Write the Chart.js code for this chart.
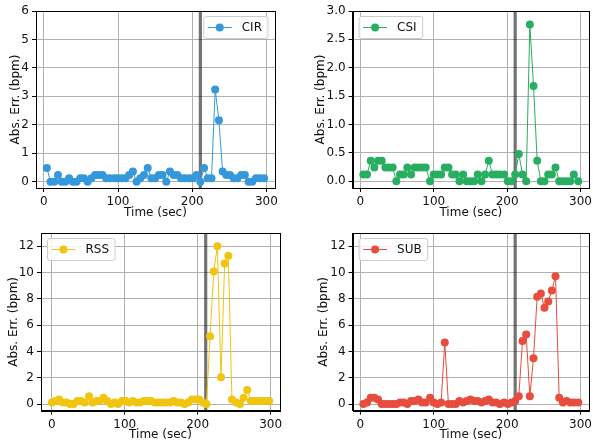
<!DOCTYPE html>
<html>
<head>
<meta charset="utf-8">
<script src="https://cdn.jsdelivr.net/npm/chart.js@4.4.1/dist/chart.umd.min.js"></script>
<style>
  html, body { margin: 0; padding: 0; background: #fff; }
  #wrap { position: relative; width: 593px; height: 442px; overflow: hidden; }
  #wrap canvas { position: absolute; }
</style>
</head>
<body>
<div id="wrap">
  <canvas id="c-cir" width="296" height="222" style="left:0;top:0"></canvas>
  <canvas id="c-csi" width="297" height="222" style="left:296px;top:0"></canvas>
  <canvas id="c-rss" width="296" height="222" style="left:0;top:222px"></canvas>
  <canvas id="c-sub" width="297" height="222" style="left:296px;top:222px"></canvas>
</div>
<script>
// --- DADOS ---
const TIME = [4, 9, 14, 19, 24, 29, 34, 39, 44, 49, 54, 59, 64, 69, 74, 79, 84, 89,
  95, 100, 105, 110, 115, 120, 125, 130, 135, 140, 145, 150, 155, 160, 165, 170, 175, 180, 185, 190,
  196, 201, 206, 211, 216, 221, 226, 231, 236, 241, 246, 251, 256, 261, 266, 271, 276, 281, 286, 291,
  297];
const TIME_RSS = [0, 5, 10, 15, 20, 25, 30, 35, 40, 45,
  51, 56, 61, 66, 71, 76, 81, 86, 91, 96, 101, 106, 111, 116, 121, 126, 131, 136, 141, 146,
  152, 157, 162, 167, 172, 177, 182, 187, 192, 197, 202, 207, 212, 217, 222, 227, 232, 237, 242, 247,
  253, 258, 263, 268, 273, 278, 283, 288, 293, 298];

const CIR = [0.48, 0, 0, 0.24, 0, 0, 0.12, 0, 0, 0.12,
  0.12, 0, 0.12, 0.24, 0.24, 0.24, 0.12, 0.12, 0.12, 0.12,
  0.12, 0.12, 0.24, 0.36, 0, 0.12, 0.24, 0.48, 0.12, 0.12,
  0.24, 0.24, 0, 0.36, 0.24, 0.24, 0.12, 0.12, 0.12, 0.12,
  0.24, 0, 0.48, 0.12, 0.12, 3.24, 2.16, 0.36, 0.24, 0.24,
  0.12, 0.12, 0.24, 0.24, 0, 0, 0.12, 0.12, 0.12];
const CSI = [0.12, 0.12, 0.36, 0.24, 0.36, 0.36, 0.24, 0.24, 0.24, 0,
  0.12, 0.12, 0.24, 0.12, 0.24, 0.24, 0.24, 0.24, 0, 0.12,
  0.12, 0.12, 0.24, 0.24, 0.12, 0.12, 0, 0.12, 0, 0,
  0, 0.12, 0, 0.12, 0.36, 0.12, 0.12, 0.12, 0.12, 0,
  0, 0.12, 0.48, 0.12, 0, 2.76, 1.68, 0.36, 0, 0,
  0.12, 0.12, 0.24, 0, 0, 0, 0, 0.12, 0];
const RSS = [0.12, 0.24, 0.36, 0.12, 0.12, 0, 0, 0.24, 0.24, 0.12,
  0.6, 0.12, 0.24, 0.24, 0.48, 0.24, 0, 0.12, 0, 0.24,
  0.24, 0.12, 0.24, 0.12, 0.12, 0.24, 0.24, 0.24, 0.12, 0.12,
  0.12, 0.12, 0.12, 0.24, 0.12, 0.12, 0, 0.12, 0.36, 0.36,
  0.36, 0.12, 0, 5.16, 10.08, 12.0, 2.04, 10.68, 11.28, 0.36,
  0.12, 0, 0.48, 1.08, 0.24, 0.24, 0.24, 0.24, 0.24, 0.24];
const SUB = [0, 0.12, 0.48, 0.48, 0.36, 0, 0, 0, 0, 0,
  0.12, 0.12, 0, 0.24, 0.24, 0.36, 0.12, 0.12, 0.48, 0.12,
  0, 0.12, 4.68, 0, 0, 0, 0.24, 0.12, 0.24, 0.36,
  0.24, 0.24, 0.12, 0.24, 0.36, 0.12, 0.12, 0, 0.12, 0,
  0.12, 0.24, 0.6, 4.8, 5.28, 0.6, 3.48, 8.16, 8.4, 7.32,
  7.8, 8.64, 9.72, 0.48, 0.12, 0.24, 0.12, 0.12, 0.12];

const X_TICKS = [0, 100, 200, 300];
const CIR_TICKS = [0, 1, 2, 3, 4, 5, 6];
const CSI_TICKS = [0, 0.5, 1, 1.5, 2, 2.5, 3];
const RSS_TICKS = [0, 2, 4, 6, 8, 10, 12];
const EVENT_TIME = 211;

const FONT = { family: '"DejaVu Sans", sans-serif', size: 12 };

// --- PAINEIS ---
const paineis = [
  { id: 'c-cir', label: 'CIR', color: '#3498db', time: TIME, values: CIR, yTicks: CIR_TICKS, yMin: -0.22, yMax: 6,
    xMin: -10.65, xMax: 311.65, legend: 'right', dec: 0, area: { left: 36, top: 11, right: 275, bottom: 188 }, yPad: 8.8 },
  { id: 'c-csi', label: 'CSI', color: '#27ae60', time: TIME, values: CSI, yTicks: CSI_TICKS, yMin: -0.12, yMax: 3,
    xMin: -10.65, xMax: 311.65, legend: 'left', dec: 1, area: { left: 56.6, top: 11, right: 295.2, bottom: 188 }, yPad: 17.8 },
  { id: 'c-rss', label: 'RSS', color: '#f1c40f', time: TIME_RSS, values: RSS, yTicks: RSS_TICKS, yMin: -0.5, yMax: 13,
    xMin: -14.9, xMax: 312.9, legend: 'left', dec: 0, area: { left: 41, top: 11, right: 280, bottom: 188.7 }, yPad: 6.8 },
  { id: 'c-sub', label: 'SUB', color: '#e74c3c', time: TIME, values: SUB, yTicks: RSS_TICKS, yMin: -0.5, yMax: 13,
    xMin: -10.65, xMax: 311.65, legend: 'left', dec: 0, area: { left: 56.6, top: 11, right: 295.2, bottom: 188.7 }, yPad: 20.8 }
];

const moldura = {
  id: 'moldura',
  beforeDatasetsDraw(chart) {
    const { ctx, chartArea: a, scales: { x } } = chart;
    const px = x.getPixelForValue(EVENT_TIME);
    ctx.save();
    ctx.strokeStyle = 'rgba(0,0,0,0.55)';
    ctx.lineWidth = 3.2;
    ctx.beginPath();
    ctx.moveTo(px, a.top);
    ctx.lineTo(px, a.bottom);
    ctx.stroke();
    ctx.restore();
  },
  afterDatasetsDraw(chart, args, opts) {
    const { ctx, chartArea: a } = chart;
    const ds = chart.data.datasets[0];
    ctx.save();
    ctx.strokeStyle = '#000';
    ctx.lineWidth = 1;
    ctx.strokeRect(Math.round(a.left) + 0.5, Math.round(a.top) + 0.5,
      Math.round(a.right) - Math.round(a.left), Math.round(a.bottom) - Math.round(a.top));

    // legenda
    ctx.font = `${FONT.size}px ${FONT.family}`;
    const tw = ctx.measureText(ds.label).width;
    const w = 4 + 24 + 10 + tw + 6, h = 22;
    const bx = opts.side === 'right' ? a.right - 7 - w : a.left + 6.5;
    const by = a.top + 5.5;
    ctx.beginPath();
    ctx.roundRect(bx, by, w, h, 2.5);
    ctx.fillStyle = 'rgba(255,255,255,0.85)';
    ctx.fill();
    ctx.strokeStyle = '#cccccc';
    ctx.stroke();
    const cy = by + h / 2;
    ctx.strokeStyle = ds.borderColor;
    ctx.beginPath();
    ctx.moveTo(bx + 4, cy);
    ctx.lineTo(bx + 28, cy);
    ctx.stroke();
    ctx.fillStyle = ds.borderColor;
    ctx.beginPath();
    ctx.arc(bx + 16, cy, 4, 0, Math.PI * 2);
    ctx.fill();
    ctx.fillStyle = '#111';
    ctx.textBaseline = 'middle';
    ctx.fillText(ds.label, bx + 38, cy + 0.5);
    ctx.restore();
  }
};

function criarGrafico(p) {
  const canvas = document.getElementById(p.id);
  const W = canvas.width, H = canvas.height;
  const fixarTicks = lista => scale => { scale.ticks = lista.map(v => ({ value: v })); };
  return new Chart(canvas, {
    type: 'line',
    data: {
      datasets: [{
        label: p.label,
        data: p.time.map((t, i) => ({ x: t, y: p.values[i] })),
        borderColor: p.color,
        backgroundColor: p.color,
        borderWidth: 1,
        pointRadius: 4,
        pointBorderWidth: 0,
        pointHoverRadius: 4,
        tension: 0
      }]
    },
    options: {
      responsive: false,
      animation: false,
      events: [],
      layout: { padding: { left: 0, top: p.area.top, right: W - p.area.right, bottom: 0 } },
      plugins: { legend: { display: false }, tooltip: { enabled: false }, moldura: { side: p.legend } },
      scales: {
        x: {
          type: 'linear',
          min: p.xMin, max: p.xMax,
          afterBuildTicks: fixarTicks(X_TICKS),
          afterFit: s => { s.height = H - p.area.bottom; s.paddingLeft = 0; s.paddingRight = 0; },
          grid: { color: '#b0b0b0', lineWidth: 1, tickLength: 4, tickColor: '#000', tickWidth: 1 },
          border: { display: true, color: '#000', width: 1 },
          ticks: { font: FONT, color: '#111', padding: 3, maxRotation: 0, autoSkip: false },
          title: { display: true, text: 'Time (sec)', font: FONT, color: '#111', padding: { top: 0, bottom: 1.5 } }
        },
        y: {
          min: p.yMin, max: p.yMax,
          afterBuildTicks: fixarTicks(p.yTicks),
          afterFit: s => { s.width = p.area.left; s.paddingTop = 0; s.paddingBottom = 0; },
          grid: { color: '#b0b0b0', lineWidth: 1, tickLength: 4, tickColor: '#000', tickWidth: 1 },
          border: { display: true, color: '#000', width: 1 },
          ticks: { font: FONT, color: '#111', padding: 3, callback: v => v.toFixed(p.dec) },
          title: { display: true, text: 'Abs. Err. (bpm)', font: FONT, color: '#111', padding: { top: p.yPad, bottom: 0 } }
        }
      }
    },
    plugins: [moldura]
  });
}

paineis.forEach(criarGrafico);
</script>
</body>
</html>
